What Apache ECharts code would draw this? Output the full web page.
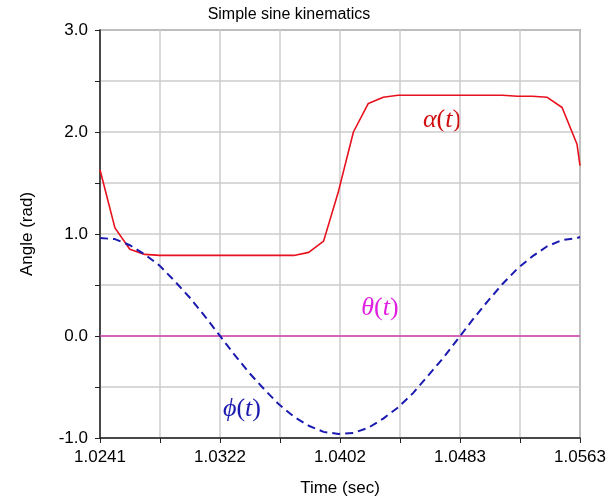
<!DOCTYPE html>
<html>
<head>
<meta charset="utf-8">
<script src="https://cdn.jsdelivr.net/npm/echarts@6/dist/echarts.min.js"></script>
<style>html,body{margin:0;padding:0;background:#fff}#c{width:612px;height:502px}</style>
</head>
<body>
<div id="c"></div>
<script>
// Time samples (sec)
var time = [1.0241,1.0251,1.0261,1.0271,1.0281,1.0291,1.0301,1.0311,1.0321,1.0331,1.0341,
  1.0351,1.0361,1.0371,1.0381,1.0391,1.0401,1.0411,1.0421,1.0431,1.0441,1.0451,1.0461,
  1.0471,1.0481,1.0491,1.0501,1.0511,1.0521,1.0531,1.0541,1.0551,1.0561,1.0563];
// alpha(t) (rad)
var alpha = [1.63,1.06,0.85,0.80,0.79,0.79,0.79,0.79,0.79,0.79,0.79,
  0.79,0.79,0.79,0.82,0.93,1.42,2.00,2.28,2.34,2.36,2.36,2.36,
  2.36,2.36,2.36,2.36,2.36,2.35,2.35,2.34,2.24,1.88,1.67];
// phi(t) (rad)
var phi = [0.96,0.95,0.89,0.80,0.69,0.54,0.38,0.20,0.01,-0.18,-0.36,
  -0.52,-0.67,-0.79,-0.88,-0.94,-0.96,-0.95,-0.90,-0.81,-0.70,-0.56,-0.39,
  -0.22,-0.03,0.16,0.34,0.51,0.66,0.78,0.88,0.94,0.96,0.97];
// theta(t) (rad)
var theta = [0,0,0,0,0,0,0,0,0,0,0,0,0,0,0,0,0,0,0,0,0,0,0,0,0,0,0,0,0,0,0,0,0,0];
// tick labels
var xTickLabels = ['1.0241','1.0322','1.0402','1.0483','1.0563'];
var yMin = -1, yMax = 3, xMin = 1.0241, xMax = 1.0563;

function pairs(ys){ return time.map(function(t,i){ return [t, ys[i]]; }); }

var chart = echarts.init(document.getElementById('c'), null, {renderer:'canvas'});
var font = 'Liberation Sans, Arial, sans-serif';
var serif = 'Liberation Serif, Times New Roman, serif';
function label(x, y, greek, color){
  return {type:'text', x:x, y:y, style:{text:'{i|'+greek+'}{p|(}{i|t}{p|)}', textAlign:'center', textVerticalAlign:'middle',
    fill:color, font:'26px '+serif,
    rich:{i:{fontFamily:serif, fontSize:26, fontStyle:'italic', fill:color},
          p:{fontFamily:serif, fontSize:26, fill:color}}}};
}
chart.setOption({
  animation: false,
  grid: {left:100, right:32, top:30, bottom:64, show:true, borderColor:'#707070', borderWidth:1.5},
  xAxis: [
    {type:'value', min:xMin, max:xMax, show:false},
    {type:'value', min:0, max:(xTickLabels.length-1)*2, interval:1, position:'bottom',
     name:'Time (sec)', nameLocation:'middle', nameGap:42,
     nameTextStyle:{fontFamily:font, fontSize:17, color:'#000'},
     axisLine:{show:true, onZero:false, lineStyle:{color:'#222', width:1.5}},
     axisTick:{show:true, length:5, lineStyle:{color:'#222'}},
     axisLabel:{fontFamily:font, fontSize:17, color:'#000', margin:11,
       formatter:function(v){ return v%2===0 ? xTickLabels[v/2] : ''; }},
     splitLine:{show:true, lineStyle:{color:'#cccccc', width:1.5}}}
  ],
  yAxis: {type:'value', min:yMin, max:yMax, interval:0.5,
    name:'Angle (rad)', nameLocation:'middle', nameGap:64,
    nameTextStyle:{fontFamily:font, fontSize:17, color:'#000'},
    axisLine:{show:true, onZero:false, lineStyle:{color:'#222', width:1.5}},
    axisTick:{show:true, length:5, lineStyle:{color:'#222'}},
    axisLabel:{fontFamily:font, fontSize:17, color:'#000', margin:12,
      formatter:function(v){ return Math.abs(v-Math.round(v))<1e-9 ? v.toFixed(1) : ''; }},
    splitLine:{show:true, lineStyle:{color:'#cccccc', width:1.5}}},
  series: [
    {type:'line', xAxisIndex:0, data:pairs(theta), showSymbol:false, lineStyle:{color:'#d040b0', width:1.5}},
    {type:'line', xAxisIndex:0, data:pairs(alpha), showSymbol:false, lineStyle:{color:'#e8101c', width:1.6}},
    {type:'line', xAxisIndex:0, data:pairs(phi), showSymbol:false, lineStyle:{color:'#1a1ab0', width:2, type:[8,5]}}
  ],
  graphic: [
    {type:'text', x:289, y:15, style:{text:'Simple sine kinematics', font:'16px '+font, fill:'#000', textAlign:'center', textVerticalAlign:'middle'}},
    label(442, 120, 'α', '#d01010'),
    label(380, 308, 'θ', '#e020e0'),
    label(242, 409, 'ϕ', '#1a1ab0')
  ]
});
</script>
</body>
</html>
